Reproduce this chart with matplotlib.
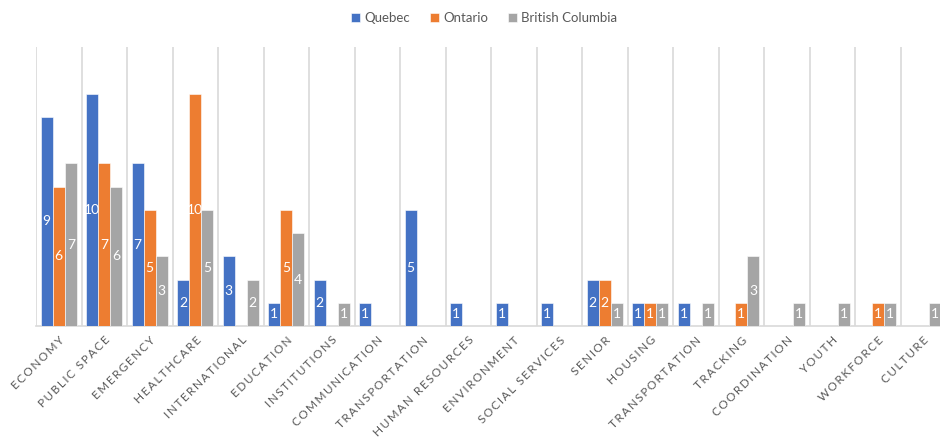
import numpy as np
import matplotlib
matplotlib.use("Agg")
import matplotlib.pyplot as plt

plt.rcParams['font.family'] = ['Lato', 'DejaVu Sans']

categories = ["ECONOMY", "PUBLIC SPACE", "EMERGENCY", "HEALTHCARE", "INTERNATIONAL",
              "EDUCATION", "INSTITUTIONS", "COMMUNICATION", "TRANSPORTATION",
              "HUMAN RESOURCES", "ENVIRONMENT", "SOCIAL SERVICES", "SENIOR", "HOUSING",
              "TRANSPORTATION", "TRACKING", "COORDINATION", "YOUTH", "WORKFORCE", "CULTURE"]
quebec = [9, 10, 7, 2, 3, 1, 2, 1, 5, 1, 1, 1, 2, 1, 1, 0, 0, 0, 0, 0]
ontario = [6, 7, 5, 10, 0, 5, 0, 0, 0, 0, 0, 0, 2, 1, 0, 1, 0, 0, 1, 0]
british_columbia = [7, 6, 3, 5, 2, 4, 1, 0, 0, 0, 0, 0, 1, 1, 1, 3, 1, 1, 1, 1]

series = [("Quebec", quebec, "#4472C4"),
          ("Ontario", ontario, "#ED7D31"),
          ("British Columbia", british_columbia, "#A5A5A5")]

fig = plt.figure(figsize=(9.4, 4.42), dpi=100)
# right edge of the original is cut off, so the axes runs past the figure
ax = fig.add_axes([36/940, 116/442, 910/940, 279/442])

x = np.arange(len(categories))
w = 0.265
for i, (name, vals, col) in enumerate(series):
    pos = x + (i - 1) * w
    bars = ax.bar(pos, vals, w, color=col, label=name, edgecolor="white", linewidth=0.4, zorder=3)
    for b, v in zip(bars, vals):
        if v > 0:
            ax.text(b.get_x() + b.get_width() / 2, v / 2, str(v), ha="center", va="center",
                    color="white", fontsize=10, zorder=4)

ax.set_xlim(-0.5, len(categories) - 0.5)
ax.set_ylim(0, 12)
for b in np.arange(-0.5, len(categories), 1.0):
    ax.axvline(b, color="#d9d9d9", lw=1.2, zorder=1)

for s in ["top", "right", "left"]:
    ax.spines[s].set_visible(False)
ax.spines["bottom"].set_color("#d9d9d9")
ax.spines["bottom"].set_linewidth(1.2)
ax.set_yticks([])

spaced = ["\u2009".join(c) for c in categories]
ax.set_xticks(x)
ax.set_xticklabels(spaced, rotation=45, ha="right", rotation_mode="anchor",
                   fontsize=8.5, color="#595959")
ax.tick_params(axis="x", length=0, pad=6)

fig.legend(loc="upper center", bbox_to_anchor=(0.515, 1.0), ncol=3, frameon=False,
           fontsize=9.5, handlelength=0.7, handleheight=0.7, handletextpad=0.3,
           columnspacing=1.5, labelcolor="#595959")

fig.savefig("out.png", dpi=100)
